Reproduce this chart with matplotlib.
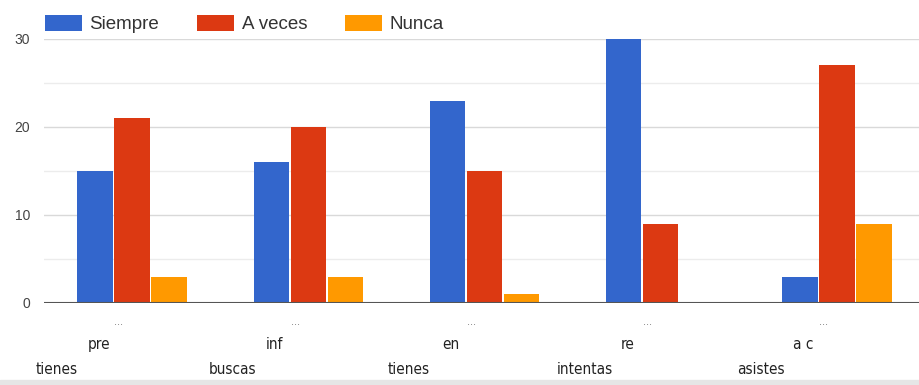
import matplotlib.pyplot as plt
import numpy as np

# ================= DATA =================
series = ["Siempre", "A veces", "Nunca"]
siempre = [15, 16, 23, 30, 3]
a_veces = [21, 20, 15, 9, 27]
nunca = [3, 3, 1, 0, 9]
colors = ["#3366CC", "#DC3912", "#FF9900"]

# truncated category labels, three staggered lines each
label_top = ["...", "...", "...", "...", "..."]
label_mid = ["pre", "inf", "en", "re", "a c"]
label_bot = ["tienes", "buscas", "tienes", "intentas", "asistes"]

yticks = [0, 10, 20, 30]

# ================= PLOT =================
plt.rcParams['font.family'] = ['Liberation Sans', 'DejaVu Sans']
fig = plt.figure(figsize=(9.19, 3.85), dpi=100)
ax = fig.add_axes([44 / 919, 1 - 303 / 385, 881 / 919, (303 - 39) / 385])

x = np.arange(len(siempre))
w = 0.2
for i, (vals, c) in enumerate(zip([siempre, a_veces, nunca], colors)):
    ax.bar(x + (i - 1) * 0.21, vals, width=w, color=c, label=series[i], zorder=3)

ax.set_xlim(-0.5, 4.5)
ax.set_ylim(0, 30)
ax.set_yticks(yticks)
ax.set_yticks([5, 15, 25], minor=True)
ax.tick_params(axis='y', which='both', length=0, labelsize=10, labelcolor="#444444", pad=10)
ax.set_xticks([])
ax.grid(axis='y', which='major', color="#d9d9d9", lw=1, zorder=0)
ax.grid(axis='y', which='minor', color="#ececec", lw=1, zorder=0)
for s in ax.spines.values():
    s.set_visible(False)
ax.axhline(0, color="#555555", lw=1.5, zorder=4)

# staggered labels below the axis
for i in range(len(x)):
    ax.text(x[i] - 0.075, -2.2, label_top[i], ha='center', va='center', fontsize=8, color="#777777")
    ax.text(x[i] - 0.19, -4.7, label_mid[i], ha='center', va='center', fontsize=11,
            color="#222222", family='DejaVu Sans', fontstretch='condensed')
    ax.text(x[i] - 0.43, -7.6, label_bot[i], ha='center', va='center', fontsize=11,
            color="#222222", family='DejaVu Sans', fontstretch='condensed')

leg = ax.legend(loc='lower left', bbox_to_anchor=(-0.009, 0.99), ncol=3, frameon=False,
                fontsize=13.5, handlelength=2.0, handleheight=0.95, columnspacing=2.0,
                borderaxespad=0.05, handletextpad=0.4)
for t in leg.get_texts():
    t.set_color("#333333")

# light bottom border strip
fig.patches.append(plt.Rectangle((0, 0), 1, 5 / 385, transform=fig.transFigure,
                                 color="#e6e6e6", zorder=0))

fig.savefig("out.png", dpi=100)
